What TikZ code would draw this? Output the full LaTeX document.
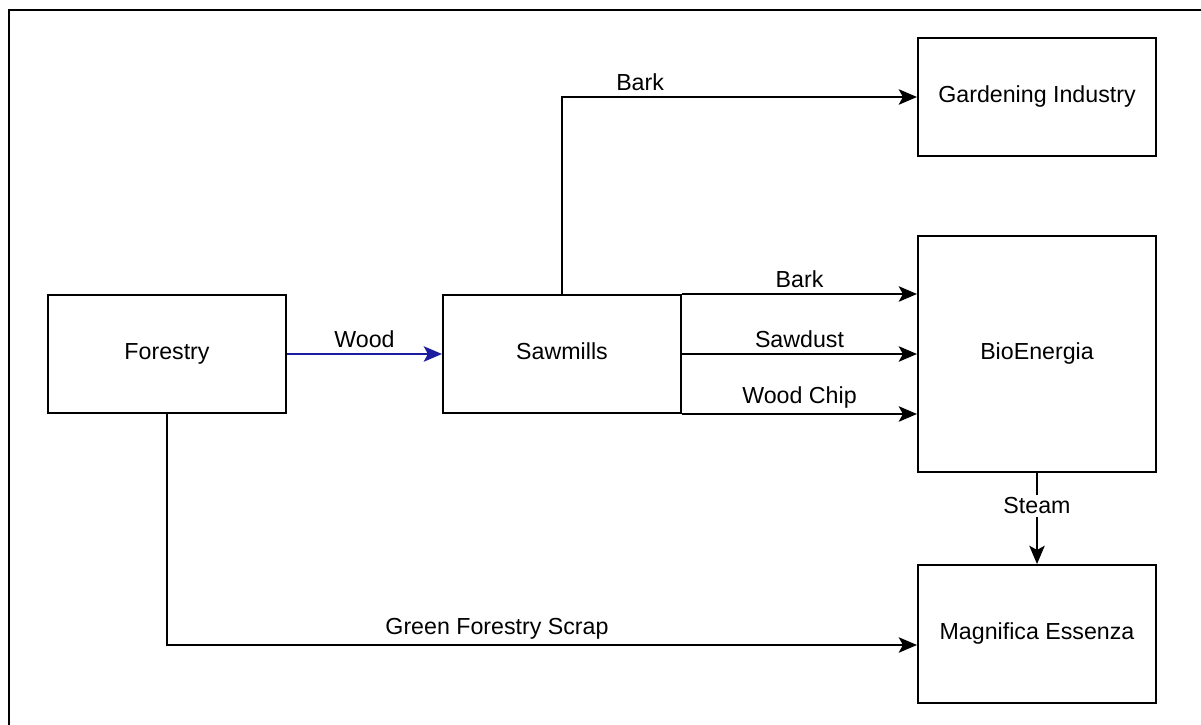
\documentclass[tikz,border=0pt]{standalone}
\usepackage{fontspec}
\setmainfont{Liberation Sans}
\usetikzlibrary{arrows.meta,calc}

\definecolor{woodblue}{RGB}{28,28,160}

\begin{document}
\begin{tikzpicture}[
  x=0.025cm, y=-0.025cm,
  font=\fontsize{16.5}{19}\selectfont,
  >={Stealth[length=13pt, width=11pt, inset=3pt]},
  line width=1.4pt,
  block/.style={draw, minimum width=5.95cm, minimum height=2.95cm, align=center, inner sep=0pt, text height=0.72em, text depth=0pt},
  flow/.style={->},
  lbl/.style={above, inner sep=3.5pt},
]
\useasboundingbox (0,0) rectangle (1201,724);

% outer frame (runs off the page at right and bottom)
\draw[line width=1.8pt] (9,10) rectangle (1230,760);

% Blocks
\node[block]                      (For) at (167,354)  {Forestry};
\node[block]                      (Saw) at (562,354)  {Sawmills};
\node[block]                      (Gar) at (1037,97)  {Gardening Industry};
\node[block, minimum height=5.9cm] (Bio) at (1037,354) {BioEnergia};
\node[block, minimum height=3.45cm] (Mag) at (1037,634) {Magnifica Essenza};

% Free end of the scrap line, a bit below the middle of Magnifica Essenza
\coordinate (scrap_in) at ($(Mag.west) + (0,11)$);

% Main wood flow
\draw[flow, woodblue] (For) -- node[lbl, black]{Wood} (Saw);

% Sawmill products
\draw[flow] (Saw.north) |- node[lbl, pos=0.61]{Bark} (Gar.west);
\draw[flow] (Saw.north east) -- node[lbl]{Bark} (Saw.north east -| Bio.west);
\draw[flow] (Saw.east)       -- node[lbl]{Sawdust} (Bio.west);
\draw[flow] (Saw.south east) -- node[lbl]{Wood Chip} (Saw.south east -| Bio.west);

% Steam from BioEnergia
\draw[flow] (Bio.south) -- node[fill=white, pos=0.36, inner sep=2pt]{Steam} (Mag.north);

% Forestry scrap
\draw[flow] (For.south) |- node[lbl, pos=0.72]{Green Forestry Scrap} (scrap_in);

\end{tikzpicture}
\end{document}
